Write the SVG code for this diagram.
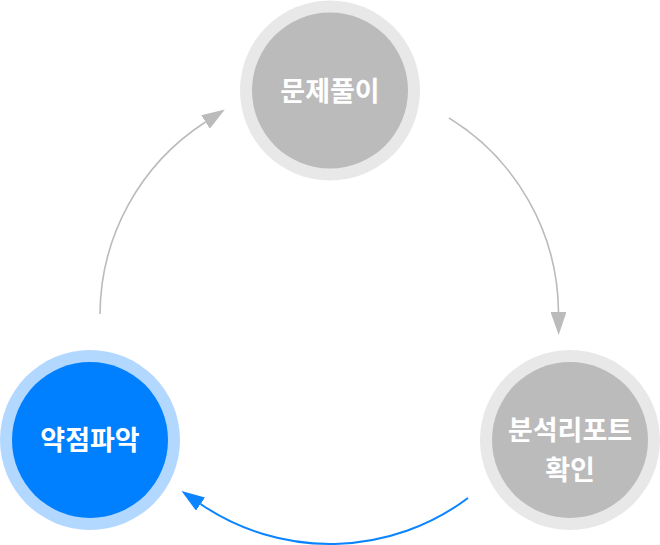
<svg xmlns="http://www.w3.org/2000/svg" width="660" height="545" viewBox="0 0 660 545">
<style>
.ring-g{fill:#e8e8e8}
.core-g{fill:#bbbbbb}
.ring-b{fill:#b3d8ff}
.core-b{fill:#0080ff}
.lbl{fill:#ffffff;font-family:"Noto Sans CJK KR","Noto Sans",sans-serif;font-weight:700;font-size:27px;text-anchor:middle}
.arc-g{fill:none;stroke:#bbbbbb;stroke-width:1.6}
.arc-b{fill:none;stroke:#0a84ff;stroke-width:2}
</style>
<defs>
<marker id="ah-g" markerUnits="userSpaceOnUse" markerWidth="23" markerHeight="16" refX="0" refY="8" orient="auto">
<path d="M0,0 L23,8 L0,16 z" fill="#bbbbbb"/>
</marker>
<marker id="ah-b" markerUnits="userSpaceOnUse" markerWidth="23" markerHeight="16" refX="0" refY="8" orient="auto">
<path d="M0,0 L23,8 L0,16 z" fill="#0a84ff"/>
</marker>
</defs>
<g id="connectors">
<path class="arc-g" d="M100,314 A230,230 0 0 1 205.5,122" marker-end="url(#ah-g)"/>
<path class="arc-g" d="M449,118 A230,230 0 0 1 558.5,312" marker-end="url(#ah-g)"/>
<path class="arc-b" d="M468,498 A230,230 0 0 1 200.5,504" marker-end="url(#ah-b)"/>
</g>
<g id="node-solve">
<circle class="ring-g" cx="330" cy="90.5" r="90"/>
<circle class="core-g" cx="330" cy="90.5" r="78"/>
<text class="lbl" x="330" y="101">문제풀이</text>
</g>
<g id="node-report">
<circle class="ring-g" cx="570" cy="440" r="90"/>
<circle class="core-g" cx="570" cy="440" r="78"/>
<text class="lbl" x="570" y="440">분석리포트</text>
<text class="lbl" x="570" y="480">확인</text>
</g>
<g id="node-weak">
<circle class="ring-b" cx="90" cy="440" r="90"/>
<circle class="core-b" cx="90" cy="440" r="78"/>
<text class="lbl" x="90" y="450">약점파악</text>
</g>
</svg>
